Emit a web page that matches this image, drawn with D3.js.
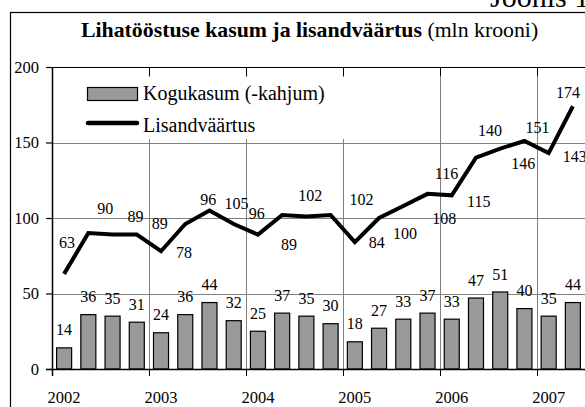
<!DOCTYPE html>
<html>
<head>
<meta charset="utf-8">
<script src="https://cdn.jsdelivr.net/npm/d3@7"></script>
<style>
	html, body { margin: 0; padding: 0; background: #fff; }
	svg { display: block; }
</style>
</head>
<body>
<div id="chart"></div>
<script>
'use strict';

// quarters 2002 I .. 2007 II
var quarters = ["2002-1", "2002-2", "2002-3", "2002-4",
	"2003-1", "2003-2", "2003-3", "2003-4",
	"2004-1", "2004-2", "2004-3", "2004-4",
	"2005-1", "2005-2", "2005-3", "2005-4",
	"2006-1", "2006-2", "2006-3", "2006-4",
	"2007-1", "2007-2"];
var years = ["2002", "2003", "2004", "2005", "2006", "2007"];

// Kogukasum (-kahjum), mln krooni
var profit = [14, 36, 35, 31, 24, 36, 44, 32, 25, 37, 35, 30,
	18, 27, 33, 37, 33, 47, 51, 40, 35, 44];
// Lisandväärtus, mln krooni
var valueAdded = [63, 90, 89, 89, 78, 96, 105, 96, 89, 102, 101, 102,
	84, 100, 108, 116, 115, 140, 146, 151, 143, 174];

var yTicks = [0, 50, 100, 150, 200];

// hand-placed label offsets from the line point (label centre), as in the original
var lineLabelOffset = [[3, -31], [17, -25], [23, -18], [23, -11], [23, 1], [23, -25],
	[27, -7], [23, -11], [31, 10], [28, -20], null, [31, -16],
	[22, 0], [26, 15], [41, 12], [19, -20], [27, 6], [14, -27],
	[23, 15], [13, -14], [26, 3], [-5, -14]];

var width = 585, height = 407;
var font = "'Liberation Serif', 'Times New Roman', serif";

var svg = d3.select("#chart").append("svg")
	.attr("width", width)
	.attr("height", height)
	.attr("font-family", font);

var plot = { left: 52, right: 585, top: 67, bottom: 369 };

var x = d3.scaleBand()
	.domain(quarters)
	.range([plot.left, plot.right])
	.paddingInner(0.38)
	.paddingOuter(0.19);

var y = d3.scaleLinear()
	.domain([0, 200])
	.range([plot.bottom, plot.top]);

function boundary(q) {
	return x(q) - x.step() * 0.19;
}
function center(q) {
	return x(q) + x.bandwidth() / 2;
}

// figure caption above the frame (cut by the picture edge)
svg.append("text")
	.attr("x", 490)
	.attr("y", 7)
	.attr("font-size", "30px")
	.text("Joonis 1");

// outer frame
svg.append("rect")
	.attr("x", 10.5)
	.attr("y", 12.5)
	.attr("width", 590)
	.attr("height", 420)
	.attr("fill", "none")
	.attr("stroke", "#000")
	.attr("stroke-width", 1.2);

// title
var title = svg.append("text")
	.attr("x", 81)
	.attr("y", 37)
	.attr("font-size", "21.8px");
title.append("tspan").attr("font-weight", "bold").text("Lihatööstuse kasum ja lisandväärtus ");
title.append("tspan").text("(mln krooni)");

// horizontal grid
svg.append("g")
	.selectAll("line")
	.data(yTicks.filter(function(d) { return d > 0 && d < 200; }))
	.join("line")
	.attr("x1", plot.left).attr("x2", plot.right)
	.attr("y1", function(d) { return Math.round(y(d)) + 0.5; })
	.attr("y2", function(d) { return Math.round(y(d)) + 0.5; })
	.attr("stroke", "#808080");

// vertical grid at year boundaries
var yearStarts = years.map(function(yr) { return yr + "-1"; });
svg.append("g")
	.selectAll("line")
	.data(yearStarts.slice(1))
	.join("line")
	.attr("x1", function(d) { return Math.round(boundary(d)) + 0.5; })
	.attr("x2", function(d) { return Math.round(boundary(d)) + 0.5; })
	.attr("y1", plot.top)
	.attr("y2", plot.bottom)
	.attr("stroke", "#808080");

// top tick marks
svg.append("g")
	.selectAll("line")
	.data(yearStarts.slice(1))
	.join("line")
	.attr("x1", function(d) { return Math.round(boundary(d)) + 0.5; })
	.attr("x2", function(d) { return Math.round(boundary(d)) + 0.5; })
	.attr("y1", plot.top)
	.attr("y2", plot.top + 9)
	.attr("stroke", "#000");

// top border of the plot area
svg.append("line")
	.attr("x1", plot.left).attr("x2", plot.right)
	.attr("y1", plot.top + 0.5).attr("y2", plot.top + 0.5)
	.attr("stroke", "#000")
	.attr("stroke-width", 1.2);

// bars
svg.append("g")
	.selectAll("rect")
	.data(profit)
	.join("rect")
	.attr("x", function(d, i) { return x(quarters[i]); })
	.attr("y", function(d) { return y(d); })
	.attr("width", x.bandwidth())
	.attr("height", function(d) { return y(0) - y(d); })
	.attr("fill", "#999999")
	.attr("stroke", "#000")
	.attr("stroke-width", 1.2);

// bar labels
svg.append("g")
	.attr("font-size", "16px")
	.attr("text-anchor", "middle")
	.selectAll("text")
	.data(profit)
	.join("text")
	.attr("x", function(d, i) { return center(quarters[i]); })
	.attr("y", function(d) { return y(d) - 18; })
	.attr("dy", "0.35em")
	.text(function(d) { return d; });

// value added line
var line = d3.line()
	.x(function(d, i) { return center(quarters[i]); })
	.y(function(d) { return y(d); });

svg.append("path")
	.datum(valueAdded)
	.attr("d", line)
	.attr("fill", "none")
	.attr("stroke", "#000")
	.attr("stroke-width", 4)
	.attr("stroke-linejoin", "miter");

svg.append("g")
	.attr("font-size", "16px")
	.attr("text-anchor", "middle")
	.selectAll("text")
	.data(valueAdded.map(function(v, i) { return { v: v, i: i, off: lineLabelOffset[i] }; })
		.filter(function(d) { return d.off; }))
	.join("text")
	.attr("x", function(d) { return center(quarters[d.i]) + d.off[0]; })
	.attr("y", function(d) { return y(d.v) + d.off[1]; })
	.attr("dy", "0.35em")
	.text(function(d) { return d.v; });

// legend (white background hides the grid)
var legend = svg.append("g");
legend.append("rect")
	.attr("x", 57).attr("y", 77)
	.attr("width", 293).attr("height", 62)
	.attr("fill", "#fff");
legend.append("rect")
	.attr("x", 87.5).attr("y", 87.5)
	.attr("width", 50).attr("height", 13)
	.attr("fill", "#999999")
	.attr("stroke", "#000")
	.attr("stroke-width", 1.2);
legend.append("line")
	.attr("x1", 88).attr("x2", 137)
	.attr("y1", 123).attr("y2", 123)
	.attr("stroke", "#000")
	.attr("stroke-width", 4.5)
	.attr("stroke-linecap", "round");
legend.append("text")
	.attr("x", 143).attr("y", 100)
	.attr("font-size", "20px")
	.text("Kogukasum (-kahjum)");
legend.append("text")
	.attr("x", 143).attr("y", 132)
	.attr("font-size", "20px")
	.text("Lisandväärtus");

// y axis
var yAxis = svg.append("g")
	.attr("transform", "translate(" + plot.left + ",0)")
	.call(d3.axisLeft(y).tickValues(yTicks).tickSize(6).tickPadding(7));
yAxis.select(".domain").remove();
yAxis.selectAll(".tick line").attr("stroke", "#000").attr("stroke-width", 1.2);
yAxis.selectAll(".tick text")
	.attr("font-family", font)
	.attr("font-size", "16.5px")
	.attr("fill", "#000");
svg.append("line")
	.attr("x1", plot.left + 0.5).attr("x2", plot.left + 0.5)
	.attr("y1", plot.top).attr("y2", plot.bottom + 7)
	.attr("stroke", "#000")
	.attr("stroke-width", 1.5);

// x axis line and year ticks
svg.append("line")
	.attr("x1", plot.left - 6).attr("x2", plot.right)
	.attr("y1", plot.bottom + 0.5).attr("y2", plot.bottom + 0.5)
	.attr("stroke", "#000")
	.attr("stroke-width", 1.5);
svg.append("g")
	.selectAll("line")
	.data(yearStarts.slice(1))
	.join("line")
	.attr("x1", function(d) { return Math.round(boundary(d)) + 0.5; })
	.attr("x2", function(d) { return Math.round(boundary(d)) + 0.5; })
	.attr("y1", plot.bottom)
	.attr("y2", plot.bottom + 7)
	.attr("stroke", "#000");

svg.append("g")
	.attr("font-size", "16.5px")
	.attr("text-anchor", "middle")
	.selectAll("text")
	.data(years)
	.join("text")
	.attr("x", function(d) { return center(d + "-1"); })
	.attr("y", 403)
	.text(function(d) { return d; });
</script>
</body>
</html>
